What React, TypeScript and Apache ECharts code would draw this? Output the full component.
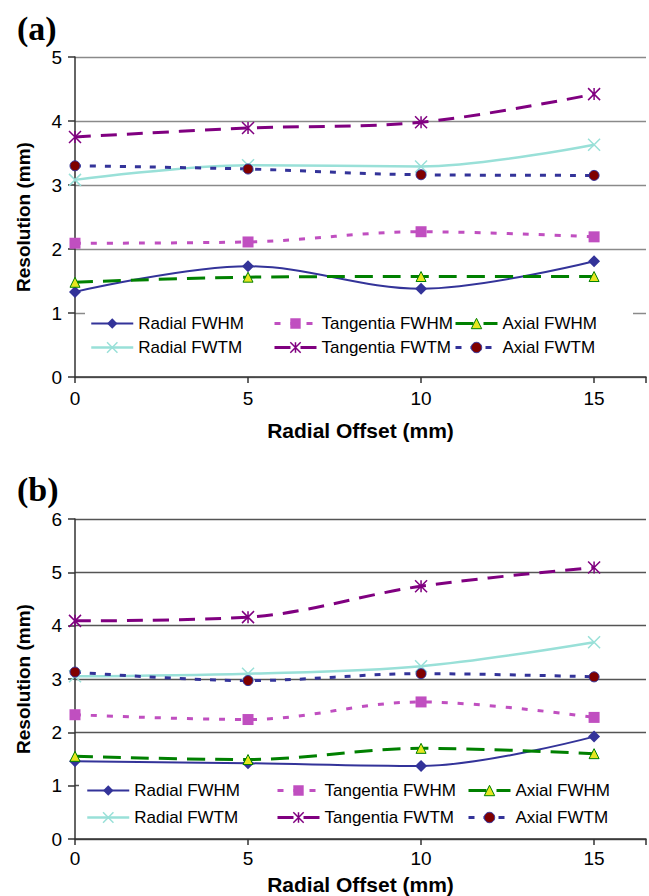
import React, { useEffect, useRef } from 'react';
import * as echarts from 'echarts';

// ---------- data ----------
const offsets = [0, 5, 10, 15];
const seriesNames = ['Radial FWHM', 'Tangentia FWHM', 'Axial FWHM', 'Radial FWTM', 'Tangentia FWTM', 'Axial FWTM'];

// (a)
const aRadialFWHM = [1.33, 1.73, 1.38, 1.81];
const aTangFWHM = [2.09, 2.11, 2.27, 2.19];
const aAxialFWHM = [1.48, 1.56, 1.57, 1.57];
const aRadialFWTM = [3.08, 3.31, 3.29, 3.63];
const aTangFWTM = [3.75, 3.89, 3.98, 4.42];
const aAxialFWTM = [3.30, 3.25, 3.16, 3.15];

// (b)
const bRadialFWHM = [1.46, 1.42, 1.37, 1.92];
const bTangFWHM = [2.33, 2.24, 2.57, 2.28];
const bAxialFWHM = [1.55, 1.49, 1.70, 1.60];
const bRadialFWTM = [3.05, 3.10, 3.24, 3.69];
const bTangFWTM = [4.09, 4.16, 4.74, 5.09];
const bAxialFWTM = [3.13, 2.97, 3.10, 3.04];

const yTicksA = { min: 0, max: 5, interval: 1 };
const yTicksB = { min: 0, max: 6, interval: 1 };
const xTicks = { min: 0, max: 16.5, interval: 5 };

// ---------- styles ----------
const X_PATH = 'path://M0,0L12,12M12,0L0,12';
const STAR_PATH = 'path://M0,0L12,12M12,0L0,12M6,0L6,12';

const styleMap: Record<string, any> = {
  'Radial FWHM': { line: '#333399', width: 2, type: 'solid', symbol: 'diamond', size: 12, fill: '#333399', border: '#333399', bw: 0 },
  'Tangentia FWHM': { line: '#C04FC0', width: 3, type: [6, 10], symbol: 'rect', size: 11, fill: '#C04FC0', border: '#C04FC0', bw: 0 },
  'Axial FWHM': { line: '#008000', width: 3, type: [18, 10], symbol: 'triangle', size: 10, fill: '#E6E620', border: '#008000', bw: 1 },
  'Radial FWTM': { line: '#99E0D8', width: 2.5, type: 'solid', symbol: X_PATH, size: 12, fill: 'rgba(0,0,0,0)', border: '#99E0D8', bw: 1.5 },
  'Tangentia FWTM': { line: '#800080', width: 3, type: [16, 10], symbol: STAR_PATH, size: 12, fill: 'rgba(0,0,0,0)', border: '#800080', bw: 1.5 },
  'Axial FWTM': { line: '#333399', width: 3, type: [6, 9], symbol: 'circle', size: 10, fill: '#800000', border: '#333399', bw: 1 },
};

const FONT = '"Liberation Sans", Arial, sans-serif';

function makeSeries(name: string, values: number[], idx: number) {
  const s = styleMap[name];
  return {
    type: 'line',
    name,
    xAxisIndex: idx,
    yAxisIndex: idx,
    data: offsets.map((x, i) => [x, values[i]]),
    smooth: 0.35,
    symbol: s.symbol,
    symbolSize: s.size,
    showSymbol: true,
    lineStyle: { color: s.line, width: s.width, type: s.type },
    itemStyle: { color: s.fill, borderColor: s.border, borderWidth: s.bw },
    emphasis: { disabled: true },
    z: 2,
  };
}

function legendItem(name: string) {
  const s = styleMap[name];
  return {
    name,
    itemStyle: { color: s.fill, borderColor: s.border, borderWidth: s.bw },
    lineStyle: { color: s.line, width: s.width, type: s.type },
  };
}

function makeLegend(names: string[], left: number, top: number, gap: number) {
  return {
    orient: 'vertical',
    left,
    top,
    padding: 0,
    itemWidth: 42,
    itemHeight: 13,
    itemGap: gap,
    selectedMode: false,
    textStyle: { fontSize: 17, fontFamily: FONT, color: '#000' },
    data: names.map(legendItem),
    z: 5,
  };
}

function xAxisCfg(gridIndex: number, nameGap: number, labelMargin: number) {
  return {
    type: 'value',
    gridIndex,
    ...xTicks,
    name: 'Radial Offset (mm)',
    nameLocation: 'middle',
    nameGap,
    nameTextStyle: { fontSize: 21, fontWeight: 'bold', fontFamily: FONT, color: '#000' },
    axisLine: { show: true, onZero: false, lineStyle: { color: '#333', width: 1.5 } },
    axisTick: { show: true, length: 6, lineStyle: { color: '#333', width: 1.5 } },
    axisLabel: {
      fontSize: 19, fontFamily: FONT, color: '#000', margin: labelMargin,
      formatter: (v: number) => (v % 5 === 0 ? String(v) : ''),
    },
    splitLine: { show: false },
  };
}

function yAxisCfg(gridIndex: number, ticks: any, gridColor: string) {
  return {
    type: 'value',
    gridIndex,
    ...ticks,
    name: 'Resolution (mm)',
    nameLocation: 'middle',
    nameGap: 42,
    nameTextStyle: { fontSize: 19, fontWeight: 'bold', fontFamily: FONT, color: '#000' },
    axisLine: { show: true, lineStyle: { color: '#333', width: 1.5 } },
    axisTick: { show: true, length: 7, lineStyle: { color: '#333', width: 1.5 } },
    axisLabel: { fontSize: 19, fontFamily: FONT, color: '#000', margin: 13 },
    splitLine: { show: true, lineStyle: { color: gridColor, width: 1.3 } },
  };
}

export default function App() {
  const ref = useRef<HTMLDivElement>(null);

  useEffect(() => {
    if (!ref.current) return;
    const chart = echarts.init(ref.current, undefined, { renderer: 'svg' });
    const option: any = {
      animation: false,
      backgroundColor: '#fff',
      grid: [
        { left: 75, top: 57, width: 581, height: 320 },
        { left: 75, top: 519, width: 581, height: 320 },
      ],
      xAxis: [xAxisCfg(0, 43, 12), xAxisCfg(1, 35, 10)],
      yAxis: [yAxisCfg(0, yTicksA, '#8a8a8a'), yAxisCfg(1, yTicksB, '#555')],
      legend: [
        makeLegend([seriesNames[0], seriesNames[3]], 90, 315, 7),
        makeLegend([seriesNames[1], seriesNames[4]], 273, 315, 7),
        makeLegend([seriesNames[2], seriesNames[5]], 454, 315, 7),
        makeLegend([seriesNames[0], seriesNames[3]], 86, 782, 10),
        makeLegend([seriesNames[1], seriesNames[4]], 276, 782, 10),
        makeLegend([seriesNames[2], seriesNames[5]], 467, 782, 10),
      ],
      graphic: [
        { type: 'rect', z: 3, shape: { x: 85, y: 306, width: 548, height: 56 }, style: { fill: '#fff' } },
        { type: 'rect', z: 3, shape: { x: 79, y: 772, width: 580, height: 62 }, style: { fill: '#fff' } },
        { type: 'text', z: 5, x: 17, y: 11, style: { text: '(a)', font: 'bold 34px "Liberation Serif", "Times New Roman", serif', fill: '#000' } },
        { type: 'text', z: 5, x: 17, y: 472, style: { text: '(b)', font: 'bold 34px "Liberation Serif", "Times New Roman", serif', fill: '#000' } },
      ],
      series: [
        makeSeries('Radial FWHM', aRadialFWHM, 0),
        makeSeries('Tangentia FWHM', aTangFWHM, 0),
        makeSeries('Axial FWHM', aAxialFWHM, 0),
        makeSeries('Radial FWTM', aRadialFWTM, 0),
        makeSeries('Tangentia FWTM', aTangFWTM, 0),
        makeSeries('Axial FWTM', aAxialFWTM, 0),
        makeSeries('Radial FWHM', bRadialFWHM, 1),
        makeSeries('Tangentia FWHM', bTangFWHM, 1),
        makeSeries('Axial FWHM', bAxialFWHM, 1),
        makeSeries('Radial FWTM', bRadialFWTM, 1),
        makeSeries('Tangentia FWTM', bTangFWTM, 1),
        makeSeries('Axial FWTM', bAxialFWTM, 1),
      ],
    };
    chart.setOption(option);
    return () => chart.dispose();
  }, []);

  return (
    <div
      ref={ref}
      style={{ position: 'absolute', left: 0, top: 0, width: 649, height: 896, overflow: 'hidden' }}
    />
  );
}
